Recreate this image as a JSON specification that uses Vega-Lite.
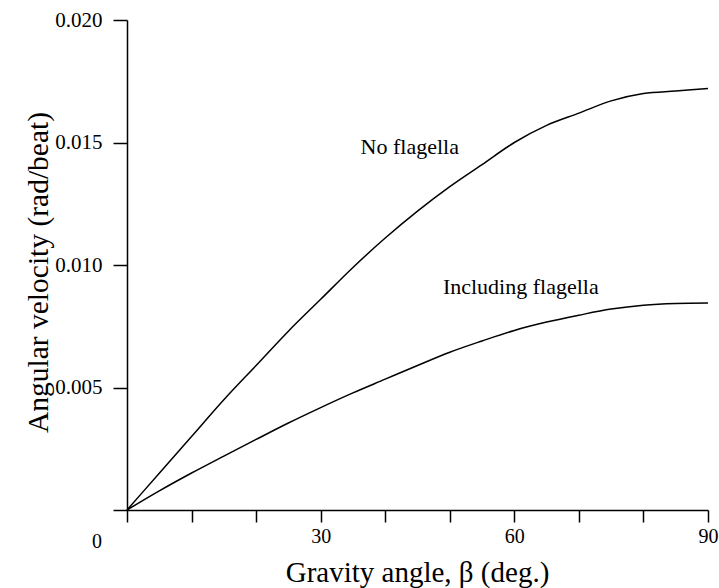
{
  "$schema": "https://vega.github.io/schema/vega-lite/v6.json",
  "width": 581,
  "height": 490,
  "autosize": "none",
  "padding": {"left": 127, "top": 20, "right": 11, "bottom": 78},
  "background": "white",
  "config": {"view": {"stroke": null}, "font": "Liberation Serif"},
  "datasets": {
    "curves": [
      {"series": "No flagella", "angle": 0, "velocity": 0},
      {"series": "No flagella", "angle": 5, "velocity": 0.0015},
      {"series": "No flagella", "angle": 10, "velocity": 0.0030},
      {"series": "No flagella", "angle": 15, "velocity": 0.0045},
      {"series": "No flagella", "angle": 20, "velocity": 0.0059},
      {"series": "No flagella", "angle": 25, "velocity": 0.0073},
      {"series": "No flagella", "angle": 30, "velocity": 0.0086},
      {"series": "No flagella", "angle": 35, "velocity": 0.0099},
      {"series": "No flagella", "angle": 40, "velocity": 0.0111},
      {"series": "No flagella", "angle": 45, "velocity": 0.0122},
      {"series": "No flagella", "angle": 50, "velocity": 0.0132},
      {"series": "No flagella", "angle": 55, "velocity": 0.0141},
      {"series": "No flagella", "angle": 60, "velocity": 0.0150},
      {"series": "No flagella", "angle": 65, "velocity": 0.0157},
      {"series": "No flagella", "angle": 70, "velocity": 0.0162},
      {"series": "No flagella", "angle": 75, "velocity": 0.0167},
      {"series": "No flagella", "angle": 80, "velocity": 0.0170},
      {"series": "No flagella", "angle": 85, "velocity": 0.0171},
      {"series": "No flagella", "angle": 90, "velocity": 0.0172},
      {"series": "Including flagella", "angle": 0, "velocity": 0},
      {"series": "Including flagella", "angle": 5, "velocity": 0.00078},
      {"series": "Including flagella", "angle": 10, "velocity": 0.00151},
      {"series": "Including flagella", "angle": 15, "velocity": 0.0022},
      {"series": "Including flagella", "angle": 20, "velocity": 0.00288},
      {"series": "Including flagella", "angle": 25, "velocity": 0.00355},
      {"series": "Including flagella", "angle": 30, "velocity": 0.00418},
      {"series": "Including flagella", "angle": 35, "velocity": 0.00478},
      {"series": "Including flagella", "angle": 40, "velocity": 0.00534},
      {"series": "Including flagella", "angle": 45, "velocity": 0.0059},
      {"series": "Including flagella", "angle": 50, "velocity": 0.00644},
      {"series": "Including flagella", "angle": 55, "velocity": 0.0069},
      {"series": "Including flagella", "angle": 60, "velocity": 0.00733},
      {"series": "Including flagella", "angle": 65, "velocity": 0.00767},
      {"series": "Including flagella", "angle": 70, "velocity": 0.00795},
      {"series": "Including flagella", "angle": 75, "velocity": 0.0082},
      {"series": "Including flagella", "angle": 80, "velocity": 0.00836},
      {"series": "Including flagella", "angle": 85, "velocity": 0.00843},
      {"series": "Including flagella", "angle": 90, "velocity": 0.00845}
    ],
    "labels": [
      {"label": "No flagella", "angle": 43.8, "velocity": 0.0148},
      {"label": "Including flagella", "angle": 61.0, "velocity": 0.0091}
    ],
    "origin": [
      {"label": "0", "angle": 0, "velocity": 0}
    ]
  },
  "layer": [
    {
      "data": {"name": "curves"},
      "mark": {"type": "line", "color": "black", "strokeWidth": 1.5, "interpolate": "monotone"},
      "encoding": {
        "x": {
          "field": "angle", "type": "quantitative",
          "scale": {"domain": [0, 90], "nice": false},
          "axis": {
            "values": [0, 10, 20, 30, 40, 50, 60, 70, 80, 90],
            "labelExpr": "datum.value > 0 && datum.value % 30 == 0 ? datum.label : ''",
            "grid": false, "labelFlush": false,
            "tickSize": 12, "tickWidth": 1.5, "tickColor": "black",
            "domainColor": "black", "domainWidth": 1.5,
            "labelFont": "Liberation Serif", "labelFontSize": 20, "labelColor": "black", "labelPadding": 4,
            "title": "Gravity angle, β (deg.)",
            "titleFont": "Liberation Serif", "titleFontSize": 29, "titleFontWeight": "normal", "titleColor": "black",
            "titleX": 290, "titleY": 62, "titleBaseline": "middle", "titleAlign": "center"
          }
        },
        "y": {
          "field": "velocity", "type": "quantitative",
          "scale": {"domain": [0, 0.02], "nice": false},
          "axis": {
            "values": [0, 0.005, 0.01, 0.015, 0.02],
            "labelExpr": "datum.value == 0 ? '' : format(datum.value, '.3f')",
            "grid": false, "labelFlush": false,
            "tickSize": 14, "tickWidth": 1.5, "tickColor": "black",
            "domainColor": "black", "domainWidth": 1.5,
            "labelFont": "Liberation Serif", "labelFontSize": 21, "labelColor": "black", "labelPadding": 11,
            "title": "Angular velocity (rad/beat)",
            "titleFont": "Liberation Serif", "titleFontSize": 29.5, "titleFontWeight": "normal", "titleColor": "black",
            "titleX": -89, "titleY": 252, "titleBaseline": "middle", "titleAlign": "center", "titleAngle": -90
          }
        },
        "detail": {"field": "series"}
      }
    },
    {
      "data": {"name": "labels"},
      "mark": {"type": "text", "font": "Liberation Serif", "fontSize": 22, "color": "black", "align": "center", "baseline": "middle"},
      "encoding": {
        "x": {"field": "angle", "type": "quantitative"},
        "y": {"field": "velocity", "type": "quantitative"},
        "text": {"field": "label"}
      }
    },
    {
      "data": {"name": "origin"},
      "mark": {"type": "text", "font": "Liberation Serif", "fontSize": 20, "color": "black", "align": "center", "baseline": "middle", "dx": -30, "dy": 32},
      "encoding": {
        "x": {"field": "angle", "type": "quantitative"},
        "y": {"field": "velocity", "type": "quantitative"},
        "text": {"field": "label"}
      }
    }
  ]
}
